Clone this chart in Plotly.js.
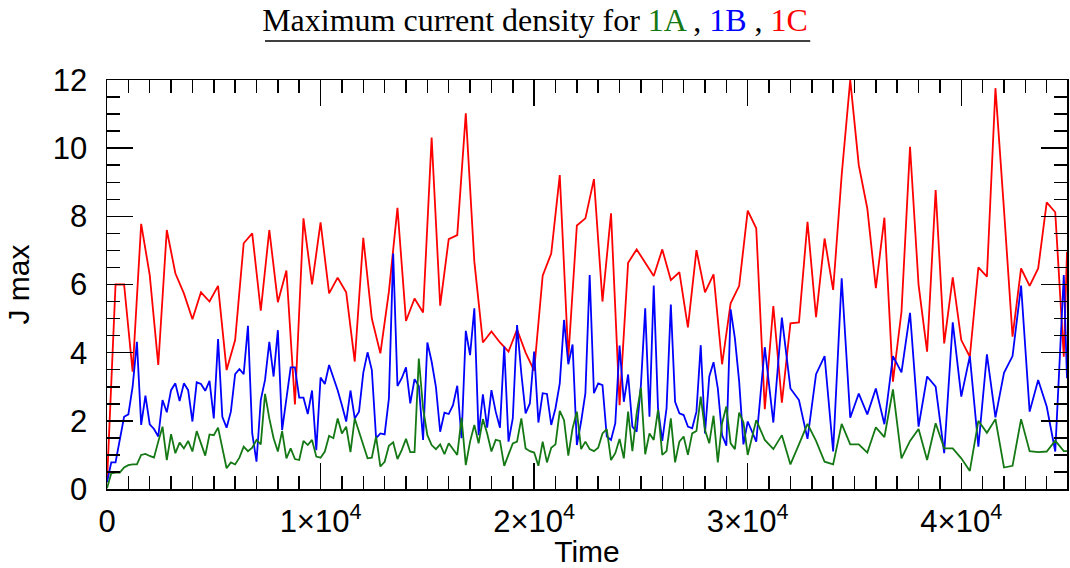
<!DOCTYPE html>
<html>
<head>
<meta charset="utf-8">
<script src="https://cdn.plot.ly/plotly-3.0.1.min.js"></script>
<style>
  html, body { margin: 0; padding: 0; background: #fff; }
  #chart { width: 1070px; height: 568px; }
</style>
</head>
<body>
<div id="chart"></div>
<script>
// Sample times shared by runs 1A and 1B
const timeAB = [
  0,200,400,600,800,1000,1200,1400,1600,1800,
  2000,2200,2400,2600,2800,3000,3200,3400,3600,3800,
  4000,4200,4400,4600,4800,5000,5200,5400,5600,5800,
  6000,6200,6400,6600,6800,7000,7200,7400,7600,7800,
  8000,8200,8400,8600,8800,9000,9200,9400,9600,9800,
  10000,10200,10400,10600,10800,11000,11200,11400,11600,11800,
  12000,12200,12400,12600,12800,13000,13200,13400,13600,13800,
  14000,14200,14400,14600,14800,15000,15200,15400,15600,15800,
  16000,16200,16400,16600,16800,17000,17200,17400,17600,17800,
  18000,18200,18400,18600,18800,19000,19200,19400,19600,19800,
  20000,20200,20400,20600,20800,21000,21200,21400,21600,21800,
  22000,22200,22400,22600,22800,23000,23200,23400,23600,23800,
  24000,24200,24400,24600,24800,25000,25200,25400,25600,25800,
  26000,26200,26400,26600,26800,27000,27200,27400,27600,27800,
  28000,28200,28400,28600,28800,29000,29200,29400,29600,29800,
  30000,30400,30800,31200,31600,32000,32400,32800,33200,33600,
  34000,34400,34800,35200,35600,36000,36400,36800,37200,37600,
  38000,38400,38800,39200,39600,40000,40400,40800,41200,41600,
  42000,42400,42800,43200,43600,44000,44400,44800,44950
];

// Maximum current density, run 1A
const jmax1A = [
  0.02,0.46,0.48,0.48,0.63,0.7,0.72,0.72,1.0,1.03,
  0.97,0.92,1.39,1.83,0.85,1.61,1.05,1.36,1.19,1.41,
  1.1,1.7,1.34,0.98,1.6,1.58,1.8,1.21,0.61,0.78,
  0.72,0.92,1.24,1.11,1.21,1.44,1.31,2.79,2.07,1.49,
  1.1,1.7,0.9,1.19,0.88,0.85,1.41,1.29,1.44,0.95,
  0.92,1.1,1.56,1.49,2.07,1.63,1.83,1.08,2.07,1.68,
  1.29,0.9,0.92,1.54,0.66,0.8,1.27,1.37,0.88,1.14,
  1.47,1.08,1.08,3.83,2.37,1.58,1.29,1.17,1.31,1.02,
  1.34,1.17,1.0,2.09,0.7,1.39,1.88,1.34,2.05,1.63,
  1.1,1.44,1.41,0.68,1.0,1.34,1.39,2.07,1.19,1.11,
  1.07,0.68,1.39,0.78,1.21,1.31,2.29,2.02,0.98,1.78,
  2.27,1.17,1.39,1.17,1.11,1.21,1.63,1.76,0.85,1.05,
  1.47,0.9,2.27,1.11,2.22,2.97,1.02,1.63,1.44,2.32,
  1.0,1.11,2.07,0.78,1.39,1.54,1.0,1.63,1.7,2.71,
  1.73,1.34,2.15,0.78,1.93,2.42,1.34,1.17,2.24,1.96,
  1.0,2.02,1.44,1.17,1.58,0.72,1.31,1.91,1.41,0.8,
  0.72,1.91,1.31,1.31,1.07,1.81,1.52,2.92,0.9,1.41,
  1.76,0.85,1.93,1.19,1.19,0.9,0.53,2.0,1.65,2.05,
  0.63,0.68,2.05,1.11,1.08,1.1,1.42,1.11,1.11
];

// Maximum current density, run 1B
const jmax1B = [
  0.2,0.78,0.78,1.49,2.12,2.19,3.0,4.32,1.88,2.74,
  1.9,1.76,1.54,2.61,2.25,2.9,3.1,2.58,3.1,2.9,
  1.98,3.13,3.08,2.88,3.17,2.07,4.4,2.12,1.8,2.27,
  3.37,3.52,3.37,4.79,1.63,0.8,2.61,3.2,4.32,3.3,
  4.66,1.73,2.66,3.57,3.57,2.68,2.68,2.2,2.89,1.14,
  3.27,3.08,3.64,3.3,2.9,2.46,1.98,2.89,2.07,2.27,
  3.41,4.01,3.49,1.49,1.63,1.6,2.66,6.91,3.02,3.25,
  3.57,2.51,3.22,3.02,1.44,4.3,3.74,3.0,1.68,2.24,
  2.2,2.46,3.03,1.49,4.64,3.93,5.3,1.58,2.78,1.8,
  2.9,2.27,1.8,4.18,1.39,2.07,4.81,3.39,2.22,2.51,
  4.03,1.95,2.81,2.79,1.88,2.37,3.1,4.96,3.66,4.24,
  1.29,1.98,2.81,6.28,2.81,3.1,3.05,1.54,1.44,1.93,
  4.21,2.56,3.36,1.83,1.68,3.05,5.3,2.12,5.97,2.37,
  1.41,2.37,5.41,2.56,2.22,2.17,1.83,1.78,2.27,4.22,
  1.63,3.3,3.72,2.95,1.58,1.27,5.27,4.42,3.15,1.31,
  1.98,1.39,4.16,1.95,5.03,2.95,2.61,1.47,3.37,3.9,
  1.1,6.18,2.09,2.8,2.19,2.95,1.9,3.9,3.42,5.17,
  1.83,3.3,3.0,1.05,4.89,2.71,3.9,1.24,3.95,2.1,
  3.41,3.9,5.97,2.27,3.2,2.42,1.1,6.28,3.25
];

// Sample times for run 1C
const timeC = [
  0,400,800,1200,1600,2000,2400,2800,3200,3600,
  4000,4400,4800,5200,5600,6000,6400,6800,7200,7600,
  8000,8400,8800,9200,9600,10000,10400,10800,11200,11600,
  12000,12400,12800,13200,13600,14000,14400,14800,15200,15600,
  16000,16400,16800,17200,17600,18000,18400,18800,19200,19600,
  20000,20400,20800,21200,21600,22000,22400,22800,23200,23600,
  24000,24400,24800,25200,25600,26000,26400,26800,27200,27600,
  28000,28400,28800,29200,29600,30000,30400,30800,31200,31600,
  32000,32400,32800,33200,33600,34000,34400,34800,35200,35600,
  36000,36400,36800,37200,37600,38000,38400,38800,39200,39600,
  40000,40400,40800,41200,41600,42000,42400,42800,43200,43600,
  44000,44400,44800,44950
];

// Maximum current density, run 1C
const jmax1C = [
  0.2,6.0,6.0,3.44,7.78,6.28,3.64,7.6,6.33,5.74,
  4.98,5.77,5.5,5.96,3.49,4.37,7.21,7.5,5.23,7.6,
  5.48,6.41,2.48,7.94,6.0,7.82,5.74,6.2,5.77,3.74,
  7.37,5.0,3.98,5.79,8.25,4.93,5.59,5.18,10.31,5.38,
  7.33,7.45,11.02,6.67,4.3,4.62,4.3,4.03,4.68,4.0,
  3.47,6.26,6.91,9.21,3.85,7.73,7.94,9.09,5.5,8.09,
  2.46,6.64,7.03,6.64,6.25,7.03,6.13,6.36,4.74,7.01,
  5.77,6.3,3.66,5.45,5.96,8.17,7.65,2.34,5.37,2.53,
  4.86,4.89,7.84,5.04,7.35,5.84,9.21,12.0,9.5,8.23,
  5.89,7.96,3.15,5.2,10.04,5.99,4.03,8.77,4.27,6.21,
  4.37,3.88,6.5,6.23,11.76,8.19,4.47,6.47,5.96,6.47,
  8.41,8.12,3.88,6.96
];

const COLOR_1A = 'rgb(20,120,20)';
const COLOR_1B = '#0000ff';
const COLOR_1C = '#ff0000';

const traces = [
  { x: timeC,  y: jmax1C, name: '1C', type: 'scatter', mode: 'lines',
    line: { color: COLOR_1C, width: 1.8 } },
  { x: timeAB, y: jmax1B, name: '1B', type: 'scatter', mode: 'lines',
    line: { color: COLOR_1B, width: 1.8 } },
  { x: timeAB, y: jmax1A, name: '1A', type: 'scatter', mode: 'lines',
    line: { color: COLOR_1A, width: 1.8 } }
];

const tickFont = { family: 'Liberation Sans, Arial, sans-serif', size: 31, color: '#000' };
const titleFont = { family: 'Liberation Sans, Arial, sans-serif', size: 30, color: '#000' };

const axisCommon = {
  showline: true, linecolor: '#000', linewidth: 1.5,
  mirror: 'allticks', ticks: 'inside', ticklen: 26, tickwidth: 1.5, tickcolor: '#000',
  showgrid: false, zeroline: false,
  tickfont: tickFont,
  automargin: false
};

const layout = {
  width: 1070, height: 568,
  paper_bgcolor: '#fff', plot_bgcolor: '#fff',
  showlegend: false,
  margin: { l: 107, r: 3, t: 80, b: 79 },
  title: {
    text: 'Maximum current density for <span style="color:' + COLOR_1A + '">1A</span> , ' +
          '<span style="color:' + COLOR_1B + '">1B</span> , ' +
          '<span style="color:' + COLOR_1C + '">1C</span>',
    font: { family: 'Liberation Serif, Times New Roman, serif', size: 32, color: '#000' },
    x: 0.5, xref: 'container', xanchor: 'center',
    y: 0.984, yref: 'container', yanchor: 'top'
  },
  xaxis: Object.assign({}, axisCommon, {
    range: [0, 44950],
    tick0: 0, dtick: 10000,
    exponentformat: 'power', showexponent: 'all',
    ticklabelstandoff: 4,
    minor: { dtick: 1000, ticks: 'inside', ticklen: 13, tickwidth: 1.5, tickcolor: '#000' },
    title: { text: 'Time', font: titleFont, standoff: 0 }
  }),
  yaxis: Object.assign({}, axisCommon, {
    range: [0, 12],
    tick0: 0, dtick: 2,
    ticklabelstandoff: 12,
    minor: { dtick: 0.5, ticks: 'inside', ticklen: 13, tickwidth: 1.5, tickcolor: '#000' },
    title: { text: 'J max', font: titleFont, standoff: 14 }
  }),
  shapes: [
    // rule beneath the heading
    { type: 'line', xref: 'paper', yref: 'paper',
      x0: 0.1646, x1: 0.7325, y0: 1.0953, y1: 1.0953,
      line: { color: '#000', width: 1.5 } }
  ]
};

Plotly.newPlot('chart', traces, layout, { staticPlot: true, displayModeBar: false });
</script>
</body>
</html>
